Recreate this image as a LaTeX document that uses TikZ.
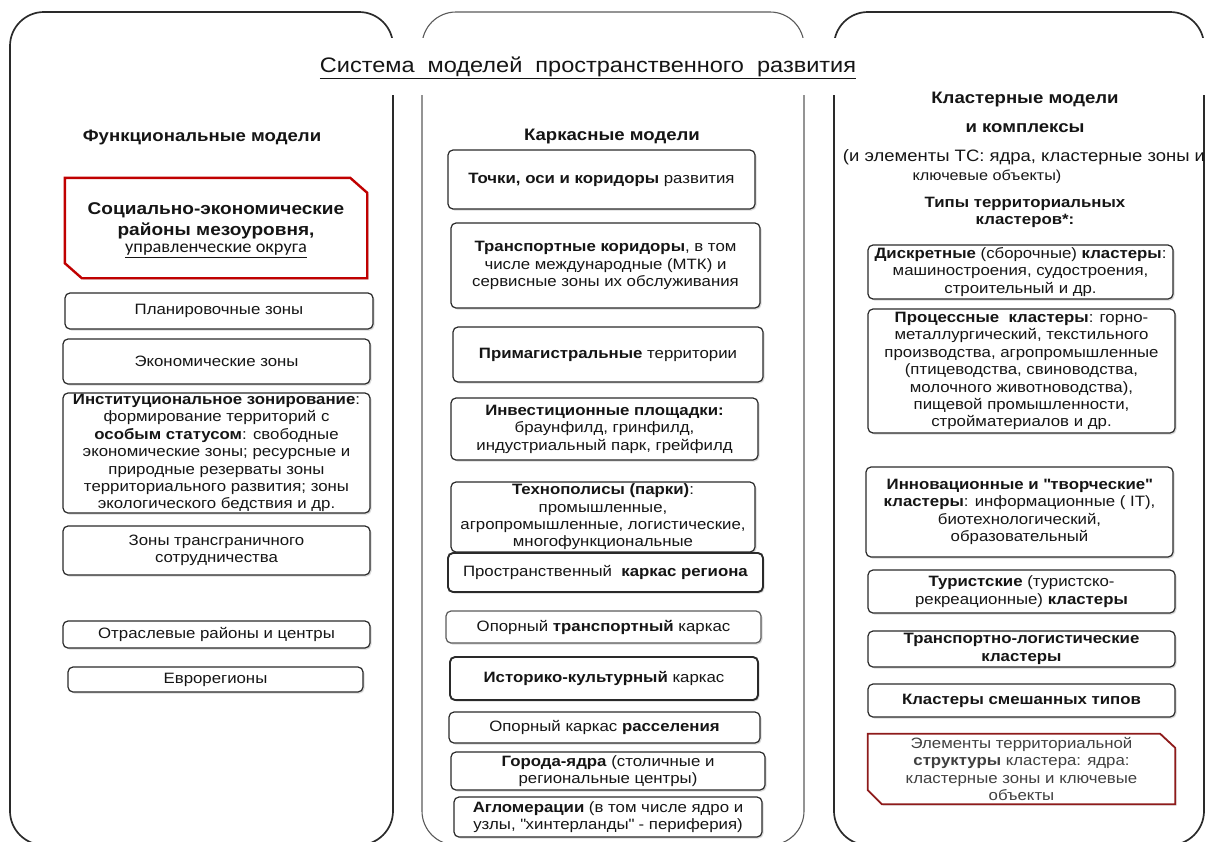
\documentclass[tikz,border=0pt]{standalone}
\usepackage{fontspec}
\setmainfont{Liberation Sans}[FakeStretch=1.12]
\newfontfamily\calfont{Carlito}[FakeStretch=1.05]
\usetikzlibrary{positioning,shadows,backgrounds}

\definecolor{framegray}{HTML}{2A2A2A}
\definecolor{midgray}{HTML}{5A5A5A}
\definecolor{boxred}{HTML}{C00000}
\definecolor{darkred}{HTML}{8E1B1B}
\definecolor{inkgray}{HTML}{151515}

\begin{document}
\begin{tikzpicture}[x=1pt, y=-1pt,
font=\fontsize{15}{17.4}\selectfont, text=inkgray,
panel/.style={draw=framegray, line width=1.7pt, rounded corners=34pt},
head/.style={font=\fontsize{16.6}{20}\selectfont\bfseries, align=center},
sz/.style 2 args={minimum width=#1pt, minimum height=#2pt},
box/.style={draw=framegray, line width=1.2pt, rounded corners=5pt, fill=white, align=center, inner sep=0pt,
  drop shadow={opacity=0.3, shadow xshift=1.5pt, shadow yshift=-1.5pt}},
heavybox/.style={box, line width=1.9pt},
redarea/.style={align=center, inner sep=0pt},
redline/.style={draw=#1, fill=white, line width=2.4pt, line join=miter,
  drop shadow={opacity=0.3, shadow xshift=1.5pt, shadow yshift=-1.5pt}}
]
\useasboundingbox (0,0) rectangle (1205,841);
\clip (0,0) rectangle (1205,841);

% three panels
\draw[panel] (10,12) rectangle (393,845);
\draw[panel, draw=midgray, line width=1.1pt] (422,12) rectangle (804,845);
\draw[panel] (834,12) rectangle (1204,845);
\fill[white] (25,38) rectangle (1210,95);
\node (title) at (588,68) {\fontsize{21}{24}\selectfont\underline{Система\ \ моделей\ \ пространственного\ \ развития}};

% functional models
\node[head] (headL) at (202,137) {Функциональные модели};
\node[redarea, sz={302}{100}] (socio) at (216,230) {\fontsize{17}{20}\selectfont\bfseries Социально-экономические\\[4pt]\fontsize{17}{20}\selectfont\bfseries районы мезоуровня,\\[0pt]\calfont\fontsize{17.5}{19}\selectfont\underline{управленческие округа}};
\node[box, sz={308}{36}] (plan) at (219,311) {Планировочные зоны};
\node[box, sz={307}{45}] (econ) at (216.5,361.5) {Экономические зоны};
\node[box, sz={307}{120}] (inst) at (216.5,453) {\textbf{Институциональное зонирование}:\\формирование территорий с\\\textbf{особым статусом}: свободные\\экономические зоны; ресурсные и\\природные резерваты зоны\\территориального развития; зоны\\экологического бедствия и др.};
\node[box, sz={307}{49}] (xborder) at (216.5,550.5) {Зоны трансграничного\\сотрудничества};
\node[box, sz={307}{27}] (sector) at (216.5,634.5) {Отраслевые районы и центры};
\node[box, sz={295}{25}] (euro) at (215.5,679.5) {Еврорегионы};

% frame models
\node[head] (headM) at (612,137) {Каркасные модели};
\node[box, sz={307}{59}] (points) at (601.5,179.5) {\textbf{Точки, оси и коридоры} развития};
\node[box, sz={309}{85}] (tcorr) at (605.5,265.5) {\textbf{Транспортные коридоры}, в том\\числе международные (МТК) и\\сервисные зоны их обслуживания};
\node[box, sz={310}{55}] (prim) at (608,354.5) {\textbf{Примагистральные} территории};
\node[box, sz={307}{62}] (invest) at (604.5,429) {\textbf{Инвестиционные площадки:}\\браунфилд, гринфилд,\\индустриальный парк, грейфилд};
\node[box, sz={304}{70}] (techno) at (603,517) {\textbf{Технополисы (парки)}:\\промышленные,\\агропромышленные, логистические,\\многофункциональные};
\node[heavybox, sz={315}{39}] (frame) at (605.5,572.5) {Пространственный\ \ \textbf{каркас региона}};
\node[box, draw=midgray, sz={315}{32}] (trframe) at (603.5,627) {Опорный \textbf{транспортный} каркас};
\node[heavybox, sz={308}{43}] (heritage) at (604,678.5) {\textbf{Историко-культурный} каркас};
\node[box, sz={311}{31}] (settle) at (604.5,727.5) {Опорный каркас \textbf{расселения}};
\node[box, sz={314}{38}] (cores) at (608,771) {\textbf{Города-ядра} (столичные и\\региональные центры)};
\node[box, sz={308}{40}] (aggl) at (608,817) {\textbf{Агломерации} (в том числе ядро и\\узлы, \textquotedbl хинтерланды\textquotedbl{} - периферия)};

% cluster models
\node[head] (headR) at (1025,100) {Кластерные модели};
\node[head, below=9pt of headR] (headRb) {и комплексы};
\node[font=\fontsize{16.5}{19}\selectfont] (noteR) at (1024,157) {(и элементы ТС: ядра, кластерные зоны и};
\node[font=\fontsize{14.5}{17}\selectfont] (noteRb) at (987,177) {ключевые объекты)};
\node[head, font=\fontsize{15}{17}\selectfont\bfseries] (typesR) at (1025,212) {Типы территориальных\\кластеров*:};
\node[box, sz={305}{54}] (discrete) at (1020.5,272) {\textbf{Дискретные} (сборочные) \textbf{кластеры}:\\машиностроения, судостроения,\\строительный и др.};
\node[box, sz={307}{124}] (process) at (1021.5,371) {\textbf{Процессные\ \ кластеры}: горно-\\металлургический, текстильного\\производства, агропромышленные\\(птицеводства, свиноводства,\\молочного животноводства),\\пищевой промышленности,\\стройматериалов и др.};
\node[box, sz={307}{90}] (innov) at (1019.5,512) {\textbf{Инновационные и \textquotedbl творческие\textquotedbl}\\\textbf{кластеры}: информационные ( IT),\\биотехнологический,\\образовательный};
\node[box, sz={307}{43}] (tourism) at (1021.5,591.5) {\textbf{Туристские} (туристско-\\рекреационные) \textbf{кластеры}};
\node[box, sz={307}{36}] (logistic) at (1021.5,649) {\textbf{Транспортно-логистические}\\\textbf{кластеры}};
\node[box, sz={307}{33}] (mixed) at (1021.5,700.5) {\textbf{Кластеры смешанных типов}};
\node[redarea, sz={307}{70}, text=black!75] (elements) at (1021.5,769) {Элементы территориальной\\\textbf{структуры} кластера: ядра:\\кластерные зоны и ключевые\\объекты};

% chamfered red frames
\begin{scope}[on background layer]
\draw[redline=boxred] ([yshift=2pt]socio.north west) -- ([xshift=-17pt,yshift=2pt]socio.north east) -- ([yshift=-13pt]socio.north east)
  -- ([yshift=2pt]socio.south east) -- ([xshift=17pt,yshift=2pt]socio.south west) -- ([yshift=17pt]socio.south west) -- cycle;
\draw[redline=darkred, line width=1.8pt] (elements.north west) -- ([xshift=-15pt]elements.north east) -- ([yshift=-14pt]elements.north east)
  -- (elements.south east) -- ([xshift=14pt]elements.south west) -- ([yshift=14pt]elements.south west) -- cycle;
\end{scope}
\end{tikzpicture}
\end{document}
